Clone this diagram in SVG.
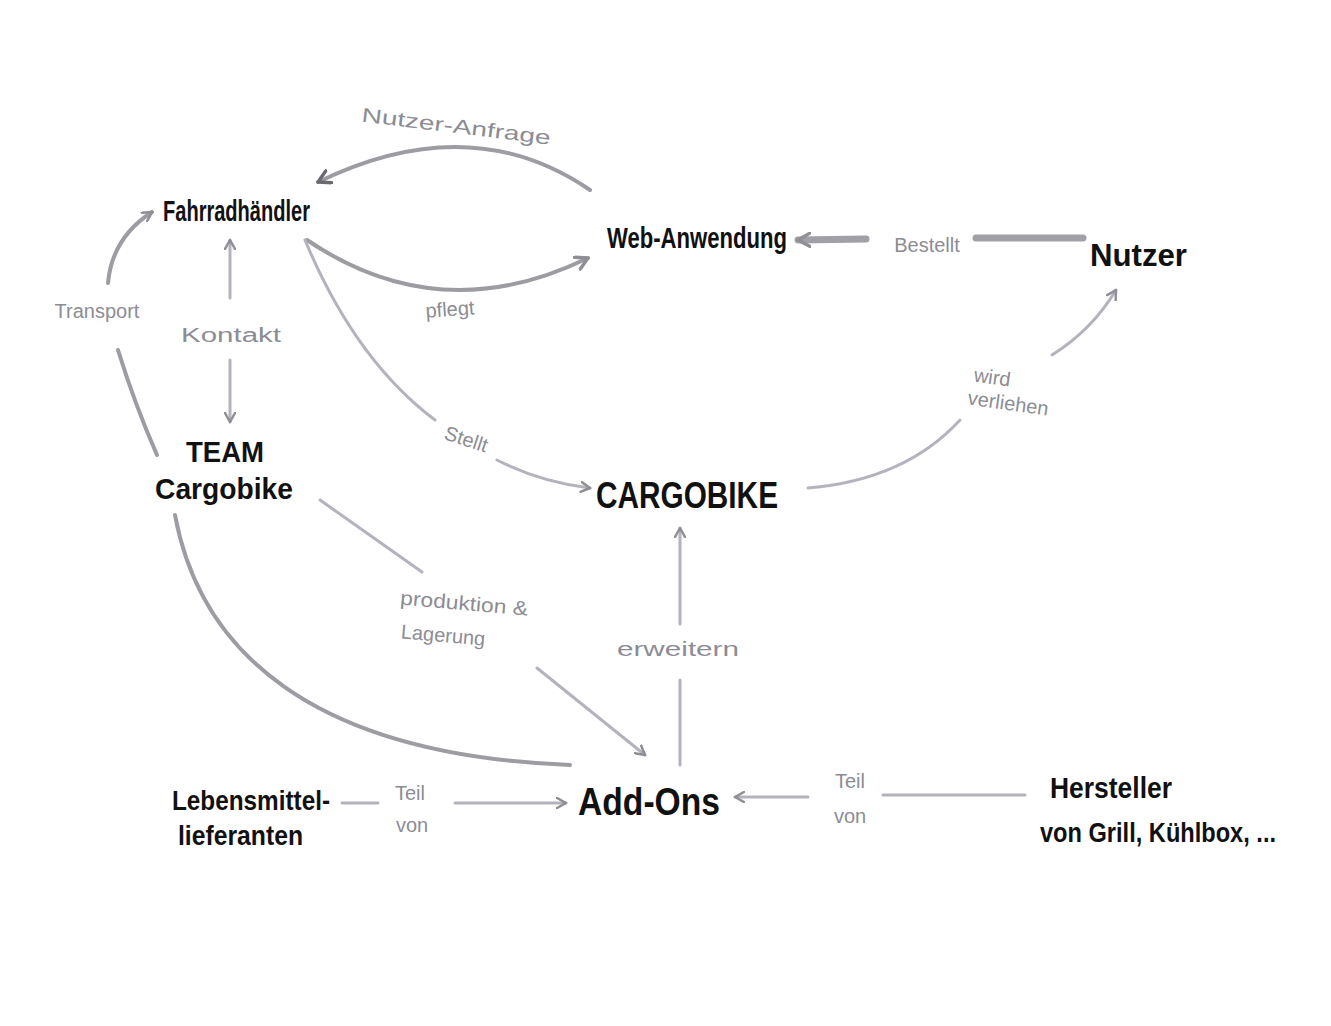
<svg xmlns="http://www.w3.org/2000/svg" width="1331" height="1026" viewBox="0 0 1331 1026">
<defs>
<marker id="ah" viewBox="0 0 12 12" refX="10" refY="6" markerWidth="12" markerHeight="12" markerUnits="userSpaceOnUse" orient="auto">
<path d="M1,1 L10,6 L1,11" fill="none" stroke="#8e8e94" stroke-width="2.5" stroke-linecap="round" stroke-linejoin="round"/>
</marker>
<marker id="ahb" viewBox="0 0 12 12" refX="10" refY="6" markerWidth="16" markerHeight="16" markerUnits="userSpaceOnUse" orient="auto">
<path d="M1,1 L10,6 L1,11" fill="none" stroke="#8e8e94" stroke-width="2.5" stroke-linecap="round" stroke-linejoin="round"/>
</marker>
<marker id="ahd" viewBox="0 0 12 12" refX="10" refY="6" markerWidth="16" markerHeight="16" markerUnits="userSpaceOnUse" orient="auto">
<path d="M1,1 L10,6 L1,11" fill="none" stroke="#6a6a70" stroke-width="2.5" stroke-linecap="round" stroke-linejoin="round"/>
</marker>
</defs>
<style>
.node{font-family:"Liberation Sans Narrow","Liberation Sans",sans-serif;font-weight:bold;fill:#111;}
.lbl{font-family:"Liberation Sans",sans-serif;fill:#8c8c94;font-size:20px;}
.c{fill:none;stroke:#9c9ca2;stroke-width:4;stroke-linecap:round;}
.cl{fill:none;stroke:#b4b2bc;stroke-width:3;stroke-linecap:round;}
.ct{fill:none;stroke:#a0a0a6;stroke-width:7;stroke-linecap:round;}
</style>
<rect width="1331" height="1026" fill="#ffffff"/>

<g id="connectors">
<!-- Nutzer-Anfrage -->
<path class="c" d="M590,190 Q470,108 318,182" stroke="#8e8e94" stroke-width="5" marker-end="url(#ahd)"/>
<!-- pflegt -->
<path class="c" d="M307,240 Q440,330 588,258" stroke-width="5" marker-end="url(#ahb)"/>
<!-- Bestellt -->
<path class="ct" d="M1083,238 L976,238"/>
<path class="ct" d="M866,239 L798,240" marker-end="url(#ahb)"/>
<!-- Kontakt -->
<path class="cl" d="M230,298 L230,240" marker-end="url(#ah)"/>
<path class="cl" d="M230,360 L230,422" marker-end="url(#ah)"/>
<!-- Transport -->
<path class="c" d="M157,455 Q135,405 118,350"/>
<path class="c" d="M108,283 Q112,238 152,212" marker-end="url(#ah)"/>
<!-- Stellt -->
<path class="cl" d="M305,240 Q355,360 435,420"/>
<path class="cl" d="M497,460 Q540,482 590,488" marker-end="url(#ah)"/>
<!-- wird verliehen -->
<path class="cl" d="M808,488 Q905,480 960,420"/>
<path class="cl" d="M1052,355 Q1092,330 1116,290" marker-end="url(#ah)"/>
<!-- produktion & Lagerung -->
<path class="cl" d="M320,500 L422,572"/>
<path class="cl" d="M537,668 L645,755" marker-end="url(#ah)"/>
<!-- erweitern -->
<path class="cl" d="M680,765 L680,680"/>
<path class="cl" d="M680,624 L680,528" marker-end="url(#ah)"/>
<!-- TEAM to Add-Ons -->
<path class="c" d="M175,515 C200,650 310,755 570,765" stroke-width="6"/>
<!-- Teil von (Lebensmittel) -->
<path class="cl" d="M342,803 L378,803"/>
<path class="cl" d="M455,803 L566,803" marker-end="url(#ah)"/>
<!-- Teil von (Hersteller) -->
<path class="cl" d="M1025,795 L883,795"/>
<path class="cl" d="M808,797 L735,797" marker-end="url(#ah)"/>
</g>

<g id="labels">
<text class="lbl" x="456" y="133" text-anchor="middle" transform="rotate(7 456 128)" textLength="190" lengthAdjust="spacingAndGlyphs">Nutzer-Anfrage</text>
<text class="lbl" x="450" y="316" text-anchor="middle" transform="rotate(-4 450 310)">pflegt</text>
<text class="lbl" x="927" y="252" text-anchor="middle" font-size="19">Bestellt</text>
<text class="lbl" x="97" y="318" text-anchor="middle" font-size="19">Transport</text>
<text class="lbl" x="231" y="342" text-anchor="middle" font-size="22" textLength="100" lengthAdjust="spacingAndGlyphs">Kontakt</text>
<text class="lbl" x="466" y="446" text-anchor="middle" transform="rotate(18 466 440)" fill="#a8a6b0">Stellt</text>
<text class="lbl" x="992" y="384" text-anchor="middle" transform="rotate(8 992 380)">wird</text>
<text class="lbl" x="1008" y="410" text-anchor="middle" transform="rotate(8 1008 405)">verliehen</text>
<text class="lbl" x="464" y="610" text-anchor="middle" transform="rotate(5 464 605)" textLength="128" lengthAdjust="spacingAndGlyphs">produktion &amp;</text>
<text class="lbl" x="443" y="642" text-anchor="middle" transform="rotate(5 443 637)">Lagerung</text>
<text class="lbl" x="678" y="656" text-anchor="middle" font-size="22" textLength="122" lengthAdjust="spacingAndGlyphs">erweitern</text>
<text class="lbl" x="410" y="800" text-anchor="middle">Teil</text>
<text class="lbl" x="412" y="832" text-anchor="middle">von</text>
<text class="lbl" x="850" y="788" text-anchor="middle" font-size="22">Teil</text>
<text class="lbl" x="850" y="823" text-anchor="middle">von</text>
</g>

<g id="node-fahrradhaendler"><text class="node" x="163" y="221" font-size="30" textLength="147" lengthAdjust="spacingAndGlyphs">Fahrradhändler</text></g>
<g id="node-webanwendung"><text class="node" x="607" y="248" font-size="30" textLength="180" lengthAdjust="spacingAndGlyphs">Web-Anwendung</text></g>
<g id="node-nutzer"><text class="node" x="1090" y="266" font-size="32" textLength="97" lengthAdjust="spacingAndGlyphs">Nutzer</text></g>
<g id="node-team"><text class="node" x="225" y="462" font-size="30" text-anchor="middle" textLength="78" lengthAdjust="spacingAndGlyphs">TEAM</text><text class="node" x="155" y="499" font-size="30" font-weight="normal" textLength="138" lengthAdjust="spacingAndGlyphs">Cargobike</text></g>
<g id="node-cargobike"><text class="node" x="596" y="508" font-size="36" textLength="182" lengthAdjust="spacingAndGlyphs">CARGOBIKE</text></g>
<g id="node-addons"><text class="node" x="578" y="815" font-size="38" textLength="142" lengthAdjust="spacingAndGlyphs">Add-Ons</text></g>
<g id="node-lebensmittel"><text class="node" x="172" y="810" font-size="28" textLength="158" lengthAdjust="spacingAndGlyphs">Lebensmittel-</text><text class="node" x="178" y="845" font-size="28" font-weight="normal" textLength="125" lengthAdjust="spacingAndGlyphs">lieferanten</text></g>
<g id="node-hersteller"><text class="node" x="1050" y="798" font-size="30" font-weight="normal" textLength="122" lengthAdjust="spacingAndGlyphs">Hersteller</text><text class="node" x="1040" y="842" font-size="28" font-weight="normal" textLength="236" lengthAdjust="spacingAndGlyphs">von Grill, Kühlbox, ...</text></g>
</svg>
